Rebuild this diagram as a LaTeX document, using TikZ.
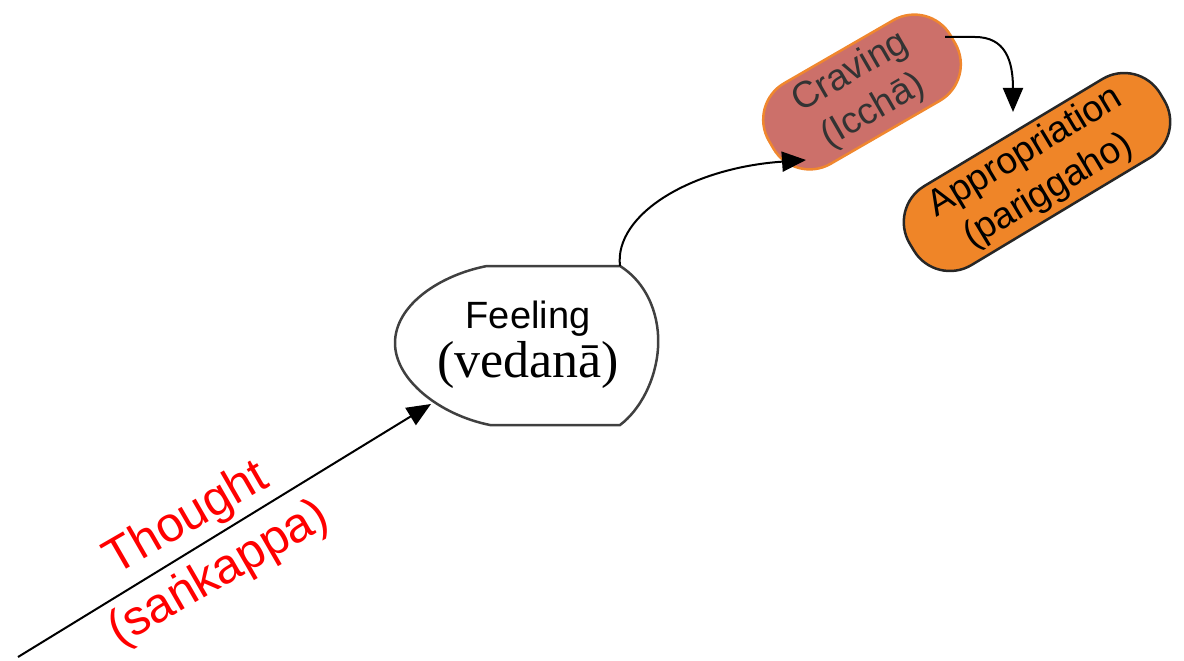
\documentclass[tikz,border=0pt]{standalone}
\usepackage{fontspec}
\setmainfont{Liberation Serif}
\setsansfont{Liberation Sans}
\usetikzlibrary{arrows.meta}
\definecolor{cravefill}{HTML}{CC706A}
\definecolor{craveedge}{HTML}{F0872E}
\definecolor{approfill}{HTML}{EF8528}
\definecolor{shapeedge}{HTML}{404040}
\tikzset{
  conn/.style={draw=black, line width=2pt, -{Triangle[length=24pt,width=20pt]}},
  pill/.style={rectangle, rounded corners=42pt, line width=2.5pt, align=center, inner sep=0pt,
    font=\sffamily\fontsize{37}{45}\selectfont}
}
\begin{document}
\begin{tikzpicture}[x=1pt,y=-1pt]
\useasboundingbox (0,0) rectangle (1184,661);
% Feeling shape
\draw[shapeedge, line width=2.5pt, fill=white]
  (487,266) -- (620,266) .. controls (650,285) and (660,320) .. (658,348)
  .. controls (656,380) and (640,410) .. (620,425) -- (490,425)
  .. controls (440,415) and (395,380) .. (395,343)
  .. controls (395,305) and (440,275) .. (487,266) -- cycle;
\node[align=center, inner sep=0pt] (feeling) at (528,345)
  {{\sffamily\fontsize{38}{50}\selectfont Feeling}\\[4pt]{\rmfamily\fontsize{52}{50}\selectfont (vedanā)}};
\coordinate (feelin) at (431,404);
\coordinate (feelout) at (620,266);
% Craving
\node[pill, fill=cravefill, draw=craveedge, text=black!80, minimum width=210pt, minimum height=93pt, rotate=30] (craving) at (862,92) {Craving\\(Icchā)};
% Appropriation
\node[pill, fill=approfill, draw=black!85, text=black, minimum width=292pt, minimum height=92pt, rotate=31] (appro) at (1037,172) {Appropriation\\(pariggaho)};
\coordinate (cravein) at (806,160);
\coordinate (craveout) at (945,37);
\coordinate (approin) at (1013,112);
% Thought
\coordinate (start) at (18,657);
\draw[conn] (start) -- (feelin);
\node[text=red, rotate=30, align=center, font=\sffamily\fontsize{49}{64}\selectfont] (thought) at (203,547) {Thought\\(saṅkappa)};
% connectors
\draw[conn] (feelout) .. controls (614,215) and (690,168) .. (cravein);
\draw[conn] (craveout) -- (975,37) .. controls (1005,37) and (1013,60) .. (approin);
\end{tikzpicture}
\end{document}
